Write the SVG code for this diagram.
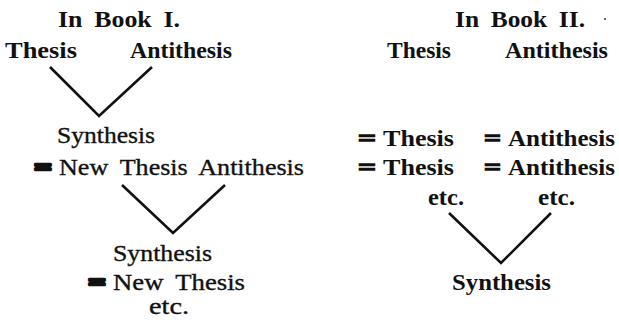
<svg xmlns="http://www.w3.org/2000/svg" width="619" height="323" viewBox="0 0 619 323">
<style>
text{font-family:"Liberation Serif","Times New Roman",serif;font-size:24px;fill:#111;font-weight:bold}
.m{font-weight:normal;stroke:#111;stroke-width:0.35}
.h{word-spacing:5px}
.w{word-spacing:5px}
.eq{stroke:#111;stroke-width:1.4}
.eqs{stroke:#111;stroke-width:2.6;stroke-linejoin:round}
.c{fill:none;stroke:#111;stroke-width:2.6;stroke-linejoin:miter}
</style>
<rect width="619" height="323" fill="#fff"/>
<g id="connectors">
<polyline class="c" points="50,67 99,116 152,67"/>
<polyline class="c" points="122,185 173,233 225,185"/>
<polyline class="c" points="449,213 501,263 551,213"/>
</g>
<g id="book1-title"><text class="h" x="58" y="27" textLength="122" lengthAdjust="spacingAndGlyphs">In Book I.</text></g>
<g id="book1-thesis"><text x="5" y="58" textLength="72" lengthAdjust="spacingAndGlyphs">Thesis</text></g>
<g id="book1-antithesis"><text x="130" y="58" textLength="102" lengthAdjust="spacingAndGlyphs">Antithesis</text></g>
<g id="book1-synthesis1"><text class="m" x="57" y="143" textLength="98" lengthAdjust="spacingAndGlyphs">Synthesis</text></g>
<g id="book1-newthesis1"><text class="eqs" x="34" y="175" textLength="18" lengthAdjust="spacingAndGlyphs">=</text><text class="m w" x="59" y="175" textLength="245" lengthAdjust="spacingAndGlyphs">New Thesis Antithesis</text></g>
<g id="book1-synthesis2"><text class="m" x="113" y="261" textLength="99" lengthAdjust="spacingAndGlyphs">Synthesis</text></g>
<g id="book1-newthesis2"><text class="eqs" x="88" y="290" textLength="18" lengthAdjust="spacingAndGlyphs">=</text><text class="m w" x="113" y="290" textLength="132" lengthAdjust="spacingAndGlyphs">New Thesis</text></g>
<g id="book1-etc"><text class="m" x="149" y="314" textLength="40" lengthAdjust="spacingAndGlyphs">etc.</text></g>
<g id="book2-title"><text class="h" x="455" y="27" textLength="130" lengthAdjust="spacingAndGlyphs">In Book II.</text><circle cx="605" cy="19" r="1" fill="#333"/></g>
<g id="book2-thesis"><text x="387" y="58" textLength="64" lengthAdjust="spacingAndGlyphs">Thesis</text></g>
<g id="book2-antithesis"><text x="505" y="58" textLength="103" lengthAdjust="spacingAndGlyphs">Antithesis</text></g>
<g id="book2-thesis-row1"><text class="eq" x="358" y="146" textLength="18" lengthAdjust="spacingAndGlyphs">=</text><text x="383" y="146" textLength="71" lengthAdjust="spacingAndGlyphs">Thesis</text></g>
<g id="book2-antithesis-row1"><text class="eq" x="484" y="146" textLength="17" lengthAdjust="spacingAndGlyphs">=</text><text x="508" y="146" textLength="107" lengthAdjust="spacingAndGlyphs">Antithesis</text></g>
<g id="book2-thesis-row2"><text class="eq" x="358" y="175" textLength="18" lengthAdjust="spacingAndGlyphs">=</text><text x="383" y="175" textLength="71" lengthAdjust="spacingAndGlyphs">Thesis</text></g>
<g id="book2-antithesis-row2"><text class="eq" x="484" y="175" textLength="17" lengthAdjust="spacingAndGlyphs">=</text><text x="508" y="175" textLength="107" lengthAdjust="spacingAndGlyphs">Antithesis</text></g>
<g id="book2-etc-left"><text x="428" y="205" textLength="36" lengthAdjust="spacingAndGlyphs">etc.</text></g>
<g id="book2-etc-right"><text x="538" y="205" textLength="37" lengthAdjust="spacingAndGlyphs">etc.</text></g>
<g id="book2-synthesis"><text x="452" y="290" textLength="99" lengthAdjust="spacingAndGlyphs">Synthesis</text></g>
</svg>
